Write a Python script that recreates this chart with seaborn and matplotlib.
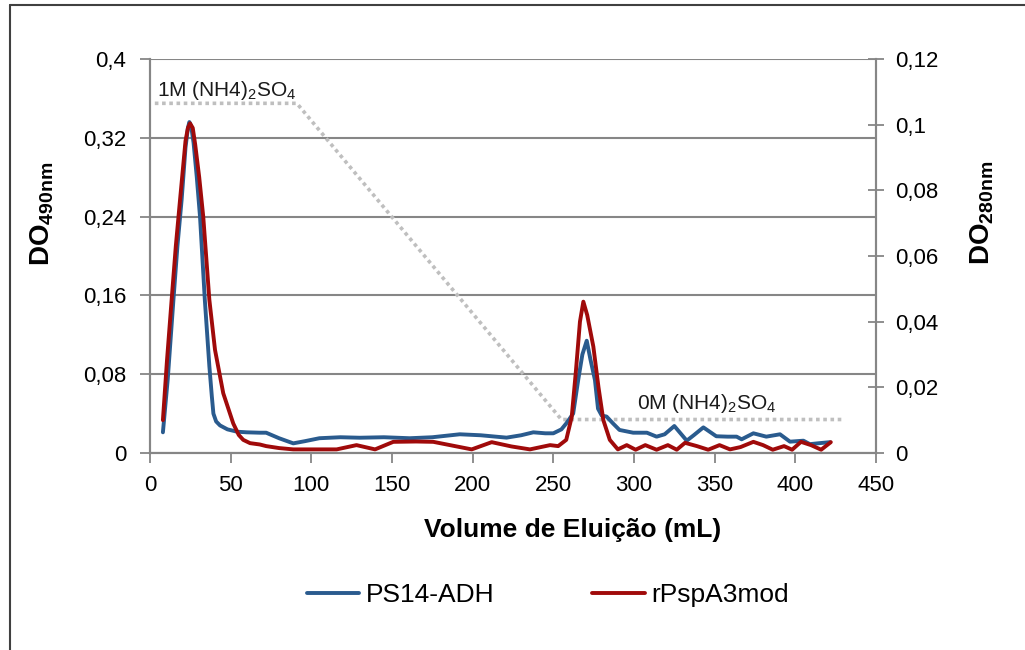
import numpy as np
import pandas as pd
import matplotlib
matplotlib.use("Agg")
import matplotlib.pyplot as plt
from matplotlib.ticker import FuncFormatter, FixedLocator
from matplotlib.lines import Line2D
import seaborn as sns

# ---------------- data ----------------
ps14_x = [8, 11, 14.5, 17, 19.6, 22, 23.5, 24.4, 25.5, 27, 29, 31, 34, 36.8, 38.3, 39.3, 41, 43.4,
          48, 54, 60, 68, 72, 80, 88.8, 96, 105, 118, 130, 145, 161, 175, 192, 205, 221, 230,
          237.6, 245, 250, 255, 258, 262.3, 265.4, 268, 270.7, 273, 275.8, 277.7, 280, 283, 287,
          291, 299.5, 308, 314, 319, 325, 332.7, 337, 343, 351, 358, 363.6, 366.7, 374, 382,
          390.5, 396.7, 405, 409, 415, 421.5]
ps14_y = [0.021, 0.075, 0.155, 0.21, 0.257, 0.31, 0.33, 0.336, 0.332, 0.315, 0.28, 0.24, 0.155,
          0.088, 0.058, 0.040, 0.032, 0.028, 0.024, 0.0216, 0.021, 0.0206, 0.0206, 0.015, 0.0098,
          0.012, 0.015, 0.016, 0.0155, 0.016, 0.015, 0.016, 0.019, 0.018, 0.0156, 0.018, 0.021,
          0.020, 0.020, 0.024, 0.030, 0.040, 0.074, 0.100, 0.114, 0.095, 0.074, 0.045, 0.038,
          0.037, 0.030, 0.0234, 0.0206, 0.0206, 0.0166, 0.019, 0.0274, 0.0125, 0.018, 0.026,
          0.017, 0.0166, 0.0166, 0.0139, 0.020, 0.0166, 0.019, 0.0115, 0.0125, 0.009, 0.010,
          0.011]

rpsp_x = [8, 10.5, 13.4, 16, 18.6, 22, 23.5, 24.8, 26.5, 28, 30.5, 33, 36.8, 40.3, 45.4, 51.6,
          55, 57.8, 62, 68, 72, 80, 88.8, 100, 115.7, 128, 139.5, 150.8, 165, 175.6, 188, 199.4,
          211.8, 224, 235.5, 248, 253, 258, 261.4, 264, 266.5, 268.6, 271, 274.8, 278, 281, 285,
          290, 295.5, 301, 307, 314, 321, 326.5, 331.6, 339, 346, 353, 359.5, 366, 374, 380, 386,
          393, 398, 403.5, 409.7, 416, 422]
rpsp_y = [0.010, 0.028, 0.0466, 0.063, 0.077, 0.095, 0.099, 0.1004, 0.099, 0.094, 0.084, 0.072,
          0.0466, 0.0314, 0.0182, 0.009, 0.0055, 0.004, 0.003, 0.0026, 0.0021, 0.0015, 0.0011,
          0.0011, 0.0011, 0.0024, 0.0011, 0.0034, 0.0035, 0.0034, 0.0022, 0.0011, 0.0033, 0.002,
          0.0011, 0.0024, 0.0021, 0.004, 0.011, 0.025, 0.040, 0.0461, 0.042, 0.0324, 0.02, 0.010,
          0.004, 0.0011, 0.0024, 0.001, 0.0024, 0.001, 0.0024, 0.001, 0.0031, 0.0021, 0.001,
          0.0024, 0.0011, 0.0018, 0.0034, 0.0024, 0.001, 0.0021, 0.001, 0.0034, 0.0024, 0.001,
          0.0033]

grad_x = [3, 91, 255, 430]
grad_y = [0.355, 0.355, 0.034, 0.034]

left_ticks = [0, 0.08, 0.16, 0.24, 0.32, 0.4]
right_ticks = [0, 0.02, 0.04, 0.06, 0.08, 0.1, 0.12]
x_ticks = [0, 50, 100, 150, 200, 250, 300, 350, 400, 450]

series_names = ["PS14-ADH", "rPspA3mod"]
label_left = r"DO$_{\mathbf{490nm}}$"
label_right = r"DO$_{\mathbf{280nm}}$"
label_x = "Volume de Eluição (mL)"
ann_start = r"1M (NH4)$_2$SO$_4$"
ann_end = r"0M (NH4)$_2$SO$_4$"

# ---------------- style ----------------
sns.set_theme(style="white")
plt.rcParams["font.family"] = ["Liberation Sans", "DejaVu Sans"]
plt.rcParams["mathtext.fontset"] = "custom"
plt.rcParams["mathtext.rm"] = "Liberation Sans"
plt.rcParams["mathtext.bf"] = "Liberation Sans:bold"
plt.rcParams["mathtext.default"] = "regular"
plt.rcParams["text.color"] = "black"
plt.rcParams["axes.labelcolor"] = "black"
plt.rcParams["xtick.color"] = "black"
plt.rcParams["ytick.color"] = "black"

BLUE = "#2A5B8E"
RED = "#A00A0A"
GREY = "#868686"
FS = 16

fig = plt.figure(figsize=(10.25, 6.5), dpi=100)
ax = fig.add_axes([150 / 1025, 1 - 453 / 650, 726 / 1025, 394 / 650])
ax2 = ax.twinx()

df_b = pd.DataFrame({"x": ps14_x, "y": ps14_y})
df_r = pd.DataFrame({"x": rpsp_x, "y": rpsp_y})
df_g = pd.DataFrame({"x": grad_x, "y": grad_y})

sns.lineplot(data=df_g, x="x", y="y", ax=ax, color="#BFBFBF", lw=2.6,
             linestyle=(0, (1, 1)), zorder=3)
sns.lineplot(data=df_b, x="x", y="y", ax=ax, color=BLUE, lw=2.8, zorder=4)
sns.lineplot(data=df_r, x="x", y="y", ax=ax2, color=RED, lw=2.8, zorder=5)

ax.set_xlim(0, 450)
ax.set_ylim(0, 0.4)
ax2.set_ylim(0, 0.12)

fmt = FuncFormatter(lambda v, p: ("%g" % round(v, 4)).replace(".", ","))
ax.yaxis.set_major_locator(FixedLocator(left_ticks))
ax2.yaxis.set_major_locator(FixedLocator(right_ticks))
ax.xaxis.set_major_locator(FixedLocator(x_ticks))
ax.yaxis.set_major_formatter(fmt)
ax2.yaxis.set_major_formatter(fmt)
ax.xaxis.set_major_formatter(FuncFormatter(lambda v, p: "%d" % v))

ax.grid(axis="y", color=GREY, lw=1.5)
ax.grid(axis="x", visible=False)
ax2.grid(False)
ax.set_axisbelow(True)

for a in (ax, ax2):
    for s in a.spines.values():
        s.set_color(GREY)
        s.set_linewidth(1.5)
    a.spines["top"].set_visible(False)

ax.tick_params(axis="x", direction="out", length=7, width=1.3, color=GREY,
               labelsize=FS, pad=9, bottom=True, labelcolor="black")
ax.tick_params(axis="y", direction="out", length=7, width=1.3, color=GREY,
               labelsize=FS, pad=10, left=True, labelcolor="black")
ax2.tick_params(axis="y", direction="inout", length=12, width=1.3, color=GREY,
                labelsize=FS, pad=8, right=True, labelcolor="black")

ax.set_xlabel(label_x, fontsize=19, fontweight="bold")
ax.xaxis.set_label_coords((573 - 150) / 726, (453 - 518) / 394)
ax.set_ylabel(label_left, fontsize=20, fontweight="bold")
ax.yaxis.set_label_coords((56 - 150) / 726, (453 - 214) / 394)
ax2.set_ylabel(label_right, fontsize=20, fontweight="bold")
ax2.yaxis.set_label_coords((968 - 150) / 726, (453 - 213) / 394)

ax.text(4.3, 0.362, ann_start, fontsize=FS - 1, ha="left", va="baseline", color="#1a1a1a")
ax.text(302, 0.0447, ann_end, fontsize=FS - 1, ha="left", va="baseline", color="#1a1a1a")

handles = [Line2D([], [], color=BLUE, lw=2.8), Line2D([], [], color=RED, lw=2.8)]
fig.legend(handles, series_names, loc="center", bbox_to_anchor=(548 / 1025, 1 - 595 / 650),
           ncol=2, frameon=False, fontsize=19, handlelength=2.0, handletextpad=0.25,
           columnspacing=3.7)

# outer frame (left and top edges)
fig.add_artist(Line2D([10 / 1025, 10 / 1025], [0, 1 - 5 / 650], color="#404040", lw=1.5,
                      transform=fig.transFigure))
fig.add_artist(Line2D([10 / 1025, 1], [1 - 5 / 650, 1 - 5 / 650], color="#404040", lw=1.5,
                      transform=fig.transFigure))

fig.savefig("out.png", dpi=100)
